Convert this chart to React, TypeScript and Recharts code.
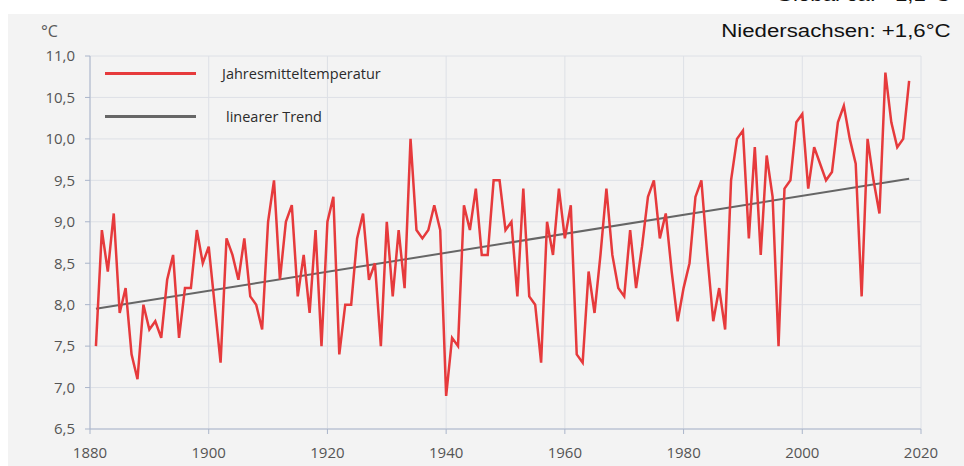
import { LineChart, Line, XAxis, YAxis, CartesianGrid } from "recharts";

// Jahresmitteltemperatur Niedersachsen, 1881-2018 (°C)
const firstYear = 1881;
const temps = [
  7.5, 8.9, 8.4, 9.1, 7.9, 8.2, 7.4, 7.1, 8.0, 7.7,
  7.8, 7.6, 8.3, 8.6, 7.6, 8.2, 8.2, 8.9, 8.5, 8.7,
  8.0, 7.3, 8.8, 8.6, 8.3, 8.8, 8.1, 8.0, 7.7, 9.0,
  9.5, 8.3, 9.0, 9.2, 8.1, 8.6, 7.9, 8.9, 7.5, 9.0,
  9.3, 7.4, 8.0, 8.0, 8.8, 9.1, 8.3, 8.5, 7.5, 9.0,
  8.1, 8.9, 8.2, 10.0, 8.9, 8.8, 8.9, 9.2, 8.9, 6.9,
  7.6, 7.5, 9.2, 8.9, 9.4, 8.6, 8.6, 9.5, 9.5, 8.9,
  9.0, 8.1, 9.4, 8.1, 8.0, 7.3, 9.0, 8.6, 9.4, 8.8,
  9.2, 7.4, 7.3, 8.4, 7.9, 8.6, 9.4, 8.6, 8.2, 8.1,
  8.9, 8.2, 8.7, 9.3, 9.5, 8.8, 9.1, 8.4, 7.8, 8.2,
  8.5, 9.3, 9.5, 8.6, 7.8, 8.2, 7.7, 9.5, 10.0, 10.1,
  8.8, 9.9, 8.6, 9.8, 9.3, 7.5, 9.4, 9.5, 10.2, 10.3,
  9.4, 9.9, 9.7, 9.5, 9.6, 10.2, 10.4, 10.0, 9.7, 8.1,
  10.0, 9.5, 9.1, 10.8, 10.2, 9.9, 10.0, 10.7,
];

// linear trend end points
const trendYears = [1881, 2018];
const trendValues = [7.95, 9.52];

const xTicks = [1880, 1900, 1920, 1940, 1960, 1980, 2000, 2020];
const yTicks = [6.5, 7, 7.5, 8, 8.5, 9, 9.5, 10, 10.5, 11];

const data = temps.map((t, i) => {
  const year = firstYear + i;
  const k = trendYears.indexOf(year);
  return { year, temp: t, trend: k >= 0 ? trendValues[k] : null };
});

const RED = "#e63a3c";
const TREND = "#666666";
const AXIS = "#aab5ca";
const GRID = "#dde0e6";

const fmt = (v: number) => v.toFixed(1).replace(".", ",");

const headStyle = {
  position: "absolute" as const,
  right: 13,
  fontFamily: "'Liberation Sans', Arial, sans-serif",
  fontSize: 17.5,
  lineHeight: "20px",
  color: "#111",
  transform: "scaleX(1.27)",
  transformOrigin: "right",
  whiteSpace: "nowrap" as const,
};

export default function App() {
  return (
    <div
      style={{
        position: "absolute",
        left: 0,
        top: 0,
        width: 964,
        height: 466,
        background: "#fff",
        overflow: "hidden",
      }}
    >
      <div
        style={{
          position: "absolute",
          left: 8,
          top: 14,
          width: 956,
          height: 452,
          background: "#f3f3f3",
        }}
      />
      <div style={{ ...headStyle, top: -15 }}>Global ca. +1,1°C</div>
      <div style={{ ...headStyle, top: 21 }}>Niedersachsen: +1,6°C</div>
      <div
        style={{
          position: "absolute",
          left: 41,
          top: 20,
          fontFamily: "'Open Sans', sans-serif",
          fontSize: 16,
          color: "#595959",
        }}
      >
        °C
      </div>
      <div style={{ position: "absolute", left: 0, top: 0 }}>
        <LineChart
          width={964}
          height={466}
          data={data}
          margin={{ top: 56, right: 43, bottom: 7, left: 30 }}
        >
          <CartesianGrid stroke={GRID} strokeWidth={1} />
          <XAxis
            dataKey="year"
            type="number"
            domain={[1880, 2020]}
            ticks={xTicks}
            height={30}
            stroke={AXIS}
            tickSize={5}
            tickMargin={13}
            tick={{ fill: "#555", fontSize: 15, fontFamily: "'Open Sans', sans-serif" }}
          />
          <YAxis
            type="number"
            domain={[6.5, 11]}
            ticks={yTicks}
            width={60}
            stroke={AXIS}
            tickSize={5}
            tickMargin={10}
            tickFormatter={fmt}
            tick={{ fill: "#555", fontSize: 15, fontFamily: "'Open Sans', sans-serif" }}
          />
          <Line
            dataKey="trend"
            stroke={TREND}
            strokeWidth={2}
            dot={false}
            connectNulls
            isAnimationActive={false}
          />
          <Line
            dataKey="temp"
            stroke={RED}
            strokeWidth={2.5}
            dot={false}
            strokeLinejoin="miter"
            isAnimationActive={false}
          />
        </LineChart>
      </div>
      <div
        style={{
          position: "absolute",
          left: 105,
          top: 63,
          fontFamily: "'Open Sans', sans-serif",
          fontSize: 14.5,
          color: "#2b2b2b",
        }}
      >
        <div style={{ display: "flex", alignItems: "center", height: 20 }}>
          <div style={{ width: 91, height: 3, background: RED }} />
          <span style={{ marginLeft: 26 }}>Jahresmitteltemperatur</span>
        </div>
        <div style={{ display: "flex", alignItems: "center", height: 20, marginTop: 23 }}>
          <div style={{ width: 91, height: 3, background: TREND }} />
          <span style={{ marginLeft: 30 }}>linearer Trend</span>
        </div>
      </div>
    </div>
  );
}
